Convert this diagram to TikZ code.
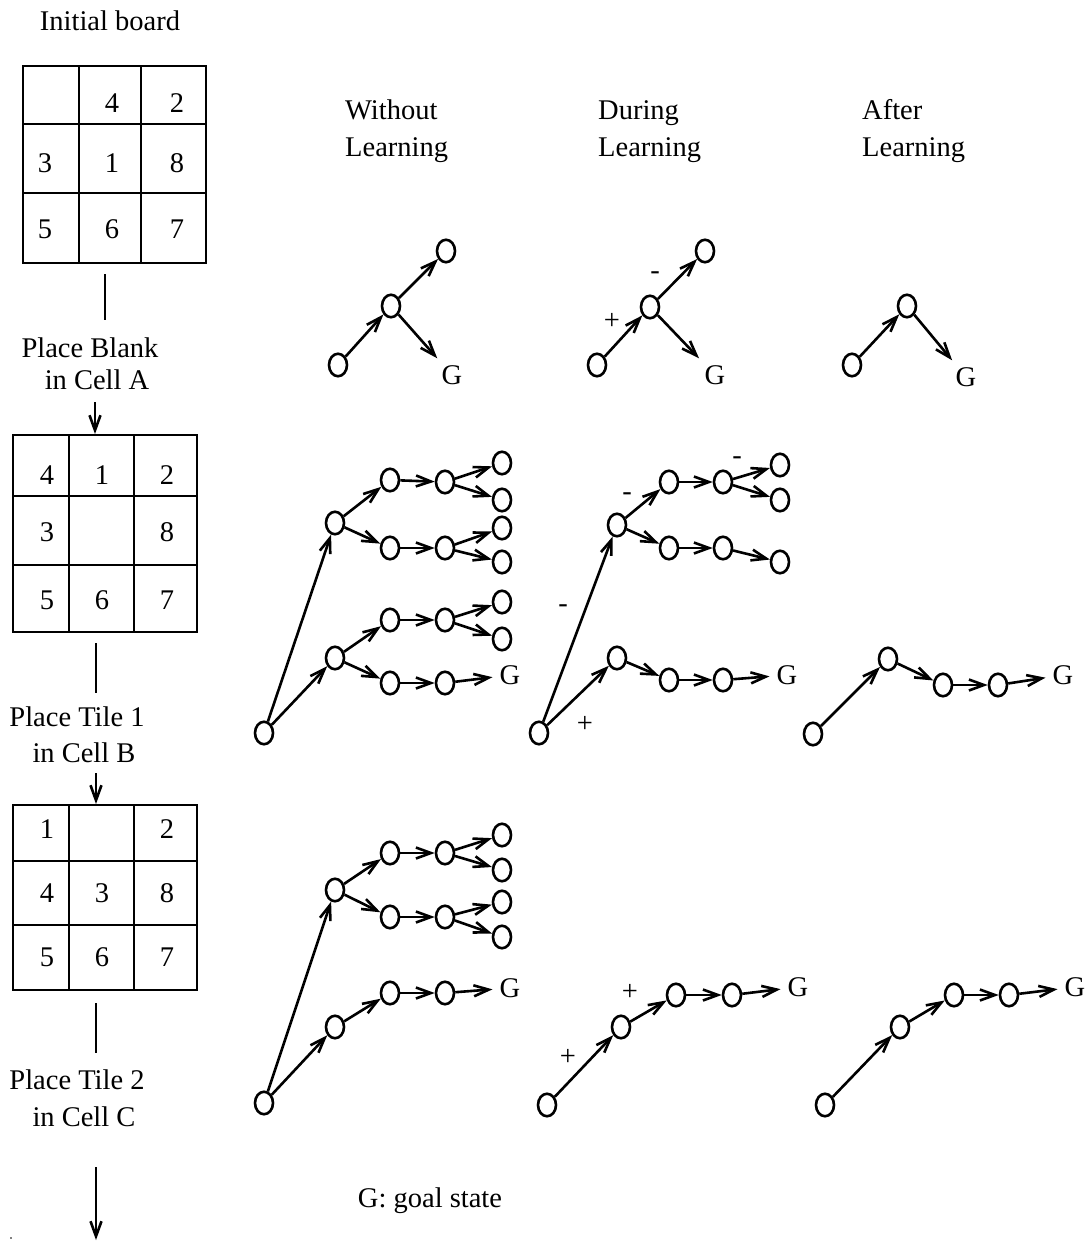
\documentclass[tikz,border=0pt]{standalone}
\usepackage{fontspec}
\setmainfont{Liberation Serif}
\usetikzlibrary{shapes.geometric,arrows.meta}
\begin{document}
\begin{tikzpicture}[x=1pt,y=-1pt,
  font=\fontsize{28.5}{34}\selectfont,
  txt/.style={inner sep=0pt, text height=19pt, text depth=0pt},
  st/.style={ellipse, draw, line width=2.6pt, minimum width=18pt, minimum height=22.5pt, inner sep=0pt},
  goal/.style={inner sep=7pt, text height=19pt, text depth=0pt},
  ar/.style={line width=2.6pt, -{Straight Barb[length=15pt,width=11pt]}},
  ln/.style={line width=2.6pt},
  grid/.style={line width=2.6pt}]
\useasboundingbox (0,0) rectangle (1091,1243);

% ---------- left column: boards and the moves between them ----------
\node[txt] (title) at (110,21) {Initial board};

% board 1
\draw[grid] (23,66) rectangle (206,263);
\draw[grid] (79,66) -- (79,263) (141,66) -- (141,263) (23,124) -- (206,124) (23,193) -- (206,193);
\node[txt] (p1c12) at (112,103) {4};
\node[txt] (p1c13) at (177,103) {2};
\node[txt] (p1c21) at (45,163) {3};
\node[txt] (p1c22) at (112,163) {1};
\node[txt] (p1c23) at (177,163) {8};
\node[txt] (p1c31) at (45,229) {5};
\node[txt] (p1c32) at (112,229) {6};
\node[txt] (p1c33) at (177,229) {7};

\coordinate (s1a) at (105,274);
\coordinate (s1b) at (105,320);
\draw[ln] (s1a) -- (s1b);
\node[txt] (mv1a) at (90,348) {Place Blank};
\node[txt] (mv1b) at (97,380) {in Cell A};
\coordinate (e1a) at (95,402);
\coordinate (e1b) at (95,434);
\draw[ar] (e1a) -- (e1b);

% board 2
\draw[grid] (13,435) rectangle (197,632);
\draw[grid] (69,435) -- (69,632) (134,435) -- (134,632) (13,496) -- (197,496) (13,565) -- (197,565);
\node[txt] (p2c11) at (47,475) {4};
\node[txt] (p2c12) at (102,475) {1};
\node[txt] (p2c13) at (167,475) {2};
\node[txt] (p2c21) at (47,532) {3};
\node[txt] (p2c23) at (167,532) {8};
\node[txt] (p2c31) at (47,600) {5};
\node[txt] (p2c32) at (102,600) {6};
\node[txt] (p2c33) at (167,600) {7};

\coordinate (s2a) at (96,643);
\coordinate (s2b) at (96,693);
\draw[ln] (s2a) -- (s2b);
\node[txt] (mv2a) at (77,717) {Place Tile 1};
\node[txt] (mv2b) at (84,753) {in Cell B};
\coordinate (e2a) at (96,773);
\coordinate (e2b) at (96,804);
\draw[ar] (e2a) -- (e2b);

% board 3
\draw[grid] (13,805) rectangle (197,990);
\draw[grid] (69,805) -- (69,990) (134,805) -- (134,990) (13,861) -- (197,861) (13,925) -- (197,925);
\node[txt] (p3c11) at (47,829) {1};
\node[txt] (p3c13) at (167,829) {2};
\node[txt] (p3c21) at (47,893) {4};
\node[txt] (p3c22) at (102,893) {3};
\node[txt] (p3c23) at (167,893) {8};
\node[txt] (p3c31) at (47,957) {5};
\node[txt] (p3c32) at (102,957) {6};
\node[txt] (p3c33) at (167,957) {7};

\coordinate (s3a) at (96,1003);
\coordinate (s3b) at (96,1053);
\draw[ln] (s3a) -- (s3b);
\node[txt] (mv3a) at (77,1080) {Place Tile 2};
\node[txt] (mv3b) at (84,1117) {in Cell C};
\coordinate (e3a) at (96,1167);
\coordinate (e3b) at (96,1240);
\draw[ar] (e3a) -- (e3b);
\fill (11,1238) circle (0.8pt);

% ---------- column headings ----------
\node[txt, anchor=west] (h1a) at (345,110) {Without};
\node[txt, anchor=west] (h1b) at (345,147) {Learning};
\node[txt, anchor=west] (h2a) at (598,110) {During};
\node[txt, anchor=west] (h2b) at (598,147) {Learning};
\node[txt, anchor=west] (h3a) at (862,110) {After};
\node[txt, anchor=west] (h3b) at (862,147) {Learning};

% ---------- first move ----------
% without learning
\node[st] (t1r) at (338,365) {};
\node[st] (t1m) at (391,306) {};
\node[st] (t1t) at (446,251) {};
\node[goal] (t1g) at (452,375) {G};
\draw[ar] (t1r) -- (t1m);
\draw[ar] (t1m) -- (t1t);
\draw[ar] (t1m) -- (t1g);
% during learning
\node[st] (t2r) at (597,365) {};
\node[st] (t2m) at (650,307) {};
\node[st] (t2t) at (705,251) {};
\node[goal] (t2g) at (715,375) {G};
\draw[ar] (t2r) -- (t2m);
\draw[ar] (t2m) -- (t2t);
\draw[ar] (t2m) -- (t2g);
\node[txt] (t2p) at (612,320) {+};
\node[txt] (t2n) at (655,270) {-};
% after learning
\node[st] (t3r) at (852,365) {};
\node[st] (t3m) at (907,306) {};
\node[goal] (t3g) at (966,377) {G};
\draw[ar] (t3r) -- (t3m);
\draw[ar] (t3m) -- (t3g);

% ---------- second move ----------
% without learning
\node[st] (m1r) at (264,733) {};
\node[st] (m1A) at (335,523) {};
\node[st] (m1B) at (335,658) {};
\node[st] (m1A1) at (390,480) {};
\node[st] (m1A2) at (390,548) {};
\node[st] (m1A1a) at (445,482) {};
\node[st] (m1A2a) at (445,548) {};
\node[st] (m1L1) at (502,463) {};
\node[st] (m1L2) at (502,500) {};
\node[st] (m1L3) at (502,528) {};
\node[st] (m1L4) at (502,562) {};
\node[st] (m1B1) at (390,620) {};
\node[st] (m1B2) at (390,683) {};
\node[st] (m1B1a) at (445,620) {};
\node[st] (m1B2a) at (445,683) {};
\node[st] (m1L5) at (502,602) {};
\node[st] (m1L6) at (502,639) {};
\node[goal] (m1g) at (510,675) {G};
\draw[ar] (m1r) -- (m1A);
\draw[ar] (m1r) -- (m1B);
\draw[ar] (m1A) -- (m1A1);
\draw[ar] (m1A) -- (m1A2);
\draw[ar] (m1A1) -- (m1A1a);
\draw[ar] (m1A2) -- (m1A2a);
\draw[ar] (m1A1a) -- (m1L1);
\draw[ar] (m1A1a) -- (m1L2);
\draw[ar] (m1A2a) -- (m1L3);
\draw[ar] (m1A2a) -- (m1L4);
\draw[ar] (m1B) -- (m1B1);
\draw[ar] (m1B) -- (m1B2);
\draw[ar] (m1B1) -- (m1B1a);
\draw[ar] (m1B2) -- (m1B2a);
\draw[ar] (m1B1a) -- (m1L5);
\draw[ar] (m1B1a) -- (m1L6);
\draw[ar] (m1B2a) -- (m1g);
% during learning
\node[st] (m2r) at (539,733) {};
\node[st] (m2A) at (617,525) {};
\node[st] (m2A1) at (669,482) {};
\node[st] (m2A1a) at (723,482) {};
\node[st] (m2L1) at (780,465) {};
\node[st] (m2L2) at (780,500) {};
\node[st] (m2A2) at (669,548) {};
\node[st] (m2A2a) at (723,548) {};
\node[st] (m2L3) at (780,562) {};
\node[st] (m2B) at (617,658) {};
\node[st] (m2B1) at (669,680) {};
\node[st] (m2B1a) at (723,680) {};
\node[goal] (m2g) at (787,675) {G};
\draw[ar] (m2r) -- (m2A);
\draw[ar] (m2r) -- (m2B);
\draw[ar] (m2A) -- (m2A1);
\draw[ar] (m2A) -- (m2A2);
\draw[ar] (m2A1) -- (m2A1a);
\draw[ar] (m2A2) -- (m2A2a);
\draw[ar] (m2A1a) -- (m2L1);
\draw[ar] (m2A1a) -- (m2L2);
\draw[ar] (m2A2a) -- (m2L3);
\draw[ar] (m2B) -- (m2B1);
\draw[ar] (m2B1) -- (m2B1a);
\draw[ar] (m2B1a) -- (m2g);
\node[txt] (m2n1) at (627,491) {-};
\node[txt] (m2n2) at (737,455) {-};
\node[txt] (m2n3) at (563,603) {-};
\node[txt] (m2p) at (585,723) {+};
% after learning
\node[st] (m3r) at (813,734) {};
\node[st] (m3a) at (888,659) {};
\node[st] (m3b) at (943,685) {};
\node[st] (m3c) at (998,685) {};
\node[goal] (m3g) at (1063,675) {G};
\draw[ar] (m3r) -- (m3a);
\draw[ar] (m3a) -- (m3b);
\draw[ar] (m3b) -- (m3c);
\draw[ar] (m3c) -- (m3g);

% ---------- third move ----------
% without learning
\node[st] (b1r) at (264,1103) {};
\node[st] (b1A) at (335,890) {};
\node[st] (b1A1) at (390,853) {};
\node[st] (b1A1a) at (445,853) {};
\node[st] (b1L1) at (502,835) {};
\node[st] (b1L2) at (502,870) {};
\node[st] (b1A2) at (390,917) {};
\node[st] (b1A2a) at (445,917) {};
\node[st] (b1L3) at (502,902) {};
\node[st] (b1L4) at (502,937) {};
\node[st] (b1B) at (335,1027) {};
\node[st] (b1B1) at (390,993) {};
\node[st] (b1B1a) at (445,993) {};
\node[goal] (b1g) at (510,988) {G};
\draw[ar] (b1r) -- (b1A);
\draw[ar] (b1r) -- (b1B);
\draw[ar] (b1A) -- (b1A1);
\draw[ar] (b1A) -- (b1A2);
\draw[ar] (b1A1) -- (b1A1a);
\draw[ar] (b1A2) -- (b1A2a);
\draw[ar] (b1A1a) -- (b1L1);
\draw[ar] (b1A1a) -- (b1L2);
\draw[ar] (b1A2a) -- (b1L3);
\draw[ar] (b1A2a) -- (b1L4);
\draw[ar] (b1B) -- (b1B1);
\draw[ar] (b1B1) -- (b1B1a);
\draw[ar] (b1B1a) -- (b1g);
% during learning
\node[st] (b2r) at (547,1105) {};
\node[st] (b2a) at (621,1027) {};
\node[st] (b2b) at (676,995) {};
\node[st] (b2c) at (732,995) {};
\node[goal] (b2g) at (798,987) {G};
\draw[ar] (b2r) -- (b2a);
\draw[ar] (b2a) -- (b2b);
\draw[ar] (b2b) -- (b2c);
\draw[ar] (b2c) -- (b2g);
\node[txt] (b2p1) at (568,1056) {+};
\node[txt] (b2p2) at (630,991) {+};
% after learning
\node[st] (b3r) at (825,1105) {};
\node[st] (b3a) at (900,1027) {};
\node[st] (b3b) at (954,995) {};
\node[st] (b3c) at (1009,995) {};
\node[goal] (b3g) at (1075,987) {G};
\draw[ar] (b3r) -- (b3a);
\draw[ar] (b3a) -- (b3b);
\draw[ar] (b3b) -- (b3c);
\draw[ar] (b3c) -- (b3g);

% legend
\node[txt] (legend) at (430,1198) {G: goal state};
\end{tikzpicture}
\end{document}
